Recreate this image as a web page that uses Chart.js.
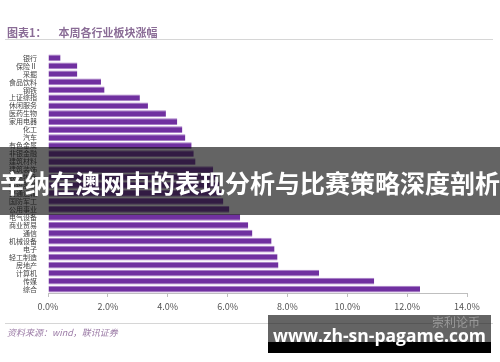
<!DOCTYPE html>
<html>
<head>
<meta charset="utf-8">
<script src="https://cdn.jsdelivr.net/npm/chart.js@4/dist/chart.umd.min.js"></script>
<style>
  body { margin: 0; background: #fff; }
  #wrap { position: relative; width: 500px; height: 362px; overflow: hidden; font-family: 'Noto Sans CJK SC', sans-serif; }
  #chart { position: absolute; left: 0; top: 0; }
  .title { position: absolute; left: 7px; top: 24px; font-size: 11px; font-weight: bold; color: #8a6c96; white-space: nowrap; }
  .title span { margin-left: 12px; }
  .rule { position: absolute; left: 5px; width: 488px; height: 1px; background: #d6d6d6; }
  .source { position: absolute; left: 7px; top: 326px; font-size: 9px; font-style: italic; color: #9b7ba6; white-space: nowrap; }
  .banner { position: absolute; left: 0; top: 147px; width: 500px; height: 68px; background: rgba(17,17,17,0.65); }
  .banner div { position: absolute; left: -4px; top: 21px; width: 508px; text-align: center; color: #fff; font-size: 25px; font-weight: bold; line-height: 28px; white-space: nowrap; }
  .mark { position: absolute; left: 268px; top: 315px; width: 223px; height: 27px; background: rgba(17,17,17,0.65); }
  .markbar { position: absolute; left: 268px; top: 342px; width: 223px; height: 11px; background: #000; }
  .marktext { position: absolute; left: 268px; top: 323px; width: 223px; text-align: center; color: #fff; font-family: 'Open Sans', sans-serif; font-weight: bold; font-size: 17.5px; line-height: 24px; white-space: nowrap; }
  .account { position: absolute; left: 432px; top: 313px; color: #9a9a9a; font-size: 12px; white-space: nowrap; }
</style>
</head>
<body>
<div id="wrap">
  <canvas id="chart" width="500" height="362"></canvas>
  <div class="title">图表1：<span>本周各行业板块涨幅</span></div>
  <div class="rule" style="top:39px"></div>
  <div class="rule" style="top:323px"></div>
  <div class="source">资料来源：wind，联讯证券</div>
  <div class="banner"><div>辛纳在澳网中的表现分析与比赛策略深度剖析</div></div>
  <div class="mark"></div>
  <div class="markbar"></div>
  <div class="account">崇利论币</div>
  <div class="marktext">www.zh-sn-pagame.com</div>
</div>
<script>
// 行业名称（从上到下）
const categories = ['银行', '保险Ⅱ', '采掘', '食品饮料', '钢铁', '上证综指', '休闲服务', '医药生物', '家用电器', '化工',
    '汽车', '有色金属', '非银金融', '建筑材料', '建筑装饰', '农林牧渔', '纺织服装', '交通运输', '国防军工', '公用事业',
    '电气设备', '商业贸易', '通信', '机械设备', '电子', '轻工制造', '房地产', '计算机', '传媒', '综合'];
// 本周涨幅 (%)
const changes = [0.42, 0.98, 0.98, 1.77, 1.89, 3.07, 3.34, 3.94, 4.32, 4.49,
    4.59, 4.80, 4.87, 4.93, 5.52, 5.62, 5.72, 5.80, 5.86, 6.06,
    6.42, 6.69, 6.83, 7.47, 7.57, 7.67, 7.70, 9.06, 10.90, 12.43];
// x轴刻度
const xTicks = [0, 2, 4, 6, 8, 10, 12, 14];

Chart.defaults.font.family = "'Noto Sans CJK SC', sans-serif";

var ctx = document.getElementById('chart').getContext('2d');
var chart = new Chart(ctx, {
    type: 'bar',
    data: {
        labels: categories,
        datasets: [{
            label: '涨幅',
            data: changes,
            backgroundColor: '#7030a0',
            borderColor: '#a77cc6',
            borderWidth: { top: 1, bottom: 1, right: 0, left: 0 },
            borderSkipped: false,
            barPercentage: 0.85,
            categoryPercentage: 1
        }]
    },
    options: {
        indexAxis: 'y',
        responsive: false,
        animation: false,
        layout: { padding: { top: 54, right: 33, left: 0, bottom: 0 } },
        plugins: { legend: { display: false }, tooltip: { enabled: false } },
        scales: {
            x: {
                min: xTicks[0],
                max: xTicks[xTicks.length - 1],
                afterBuildTicks: function (s) { s.ticks = xTicks.map(v => ({ value: v })); },
                afterFit: function (s) { s.height = 69; },
                grid: { drawOnChartArea: false, drawTicks: true, tickLength: 4, color: '#bfbfbf' },
                border: { color: '#bfbfbf' },
                ticks: { padding: 4, color: '#555', font: { size: 9 }, maxRotation: 0,
                    callback: function (v) { return v.toFixed(1) + '%'; } }
            },
            y: {
                afterFit: function (s) { s.width = 48; },
                grid: { display: false },
                border: { display: false },
                ticks: { autoSkip: false, padding: 3, color: '#444', font: { size: 7 } }
            }
        }
    }
});
</script>
</body>
</html>
